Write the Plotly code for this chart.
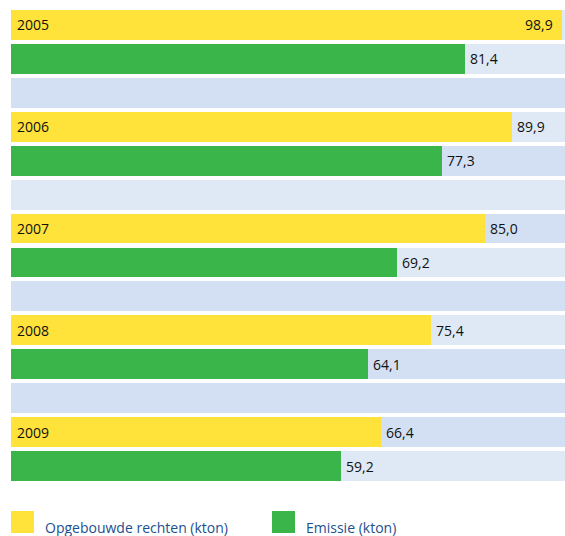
import plotly.graph_objects as go

years = ["2005", "2006", "2007", "2008", "2009"]
rechten = [98.9, 89.9, 85.0, 75.4, 66.4]
emissie = [81.4, 77.3, 69.2, 64.1, 59.2]
series_names = ["Opgebouwde rechten (kton)", "Emissie (kton)"]
stripe_shades = ["light", "light", "dark", "light", "dark", "light", "dark",
                 "light", "dark", "light", "dark", "dark", "dark", "light"]

YELLOW = "#ffe23a"
GREEN = "#3ab54a"
LIGHT = "#dfe9f5"
DARK = "#d3e0f3"
XMAX = 99.44
FONT = "Open Sans"

W, H = 565, 536
ML, MR, MT, MB = 11, 0, 8, 53
PW, PH = W - ML - MR, H - MT - MB

n_rows = len(stripe_shades)
y_yellow = [3 * i for i in range(len(years))]
y_green = [3 * i + 1 for i in range(len(years))]

fig = go.Figure()
fig.add_trace(go.Bar(
    y=list(range(n_rows)), x=[XMAX] * n_rows, orientation="h",
    marker=dict(color=[LIGHT if s == "light" else DARK for s in stripe_shades], line=dict(width=0)),
    width=0.88, hoverinfo="skip", showlegend=False))
fig.add_trace(go.Bar(
    y=y_yellow, x=rechten, orientation="h", name=series_names[0],
    marker=dict(color=YELLOW, line=dict(width=0)), width=0.88, showlegend=False))
fig.add_trace(go.Bar(
    y=y_green, x=emissie, orientation="h", name=series_names[1],
    marker=dict(color=GREEN, line=dict(width=0)), width=0.88, showlegend=False))

ann = []
def fmt(v):
    return f"{v:.1f}".replace(".", ",")

for yr, yy in zip(years, y_yellow):
    ann.append(dict(x=0, y=yy, xref="x", yref="y", text=yr, showarrow=False,
                    xanchor="left", xshift=4, font=dict(family=FONT, size=14, color="#111")))
for yy, v in zip(y_yellow + y_green, rechten + emissie):
    inside = v > 95
    ann.append(dict(x=v, y=yy, xref="x", yref="y", text=fmt(v), showarrow=False,
                    xanchor="right" if inside else "left",
                    xshift=-7 if inside else 3,
                    font=dict(family=FONT, size=14, color="#111")))

# legend
shapes = []
leg_x = [11, 272]
bottom = MT + PH
for lx, col, name in zip(leg_x, [YELLOW, GREEN], series_names):
    shapes.append(dict(type="rect", xref="paper", yref="paper",
                       x0=(lx - ML) / PW, x1=(lx + 23 - ML) / PW,
                       y0=-(511 - bottom) / PH, y1=-(533 - bottom) / PH,
                       fillcolor=col, line=dict(width=0), layer="above"))
    ann.append(dict(x=(lx + 32 - ML) / PW, y=-(527 - bottom) / PH, xref="paper", yref="paper",
                    text=name, showarrow=False, xanchor="left", yanchor="middle",
                    font=dict(family=FONT, size=14, color="#1d4f8f")))

fig.update_layout(
    width=W, height=H,
    margin=dict(l=ML, r=MR, t=MT, b=MB),
    barmode="overlay", bargap=0,
    plot_bgcolor="white", paper_bgcolor="white",
    xaxis=dict(range=[0, XMAX], visible=False, fixedrange=True),
    yaxis=dict(range=[n_rows - 0.5, -0.5], visible=False, fixedrange=True),
    annotations=ann, shapes=shapes, showlegend=False,
)
fig.write_html("out.html", config={"displayModeBar": False},
               post_script="document.body.style.margin='0';document.body.style.overflow='hidden';")
